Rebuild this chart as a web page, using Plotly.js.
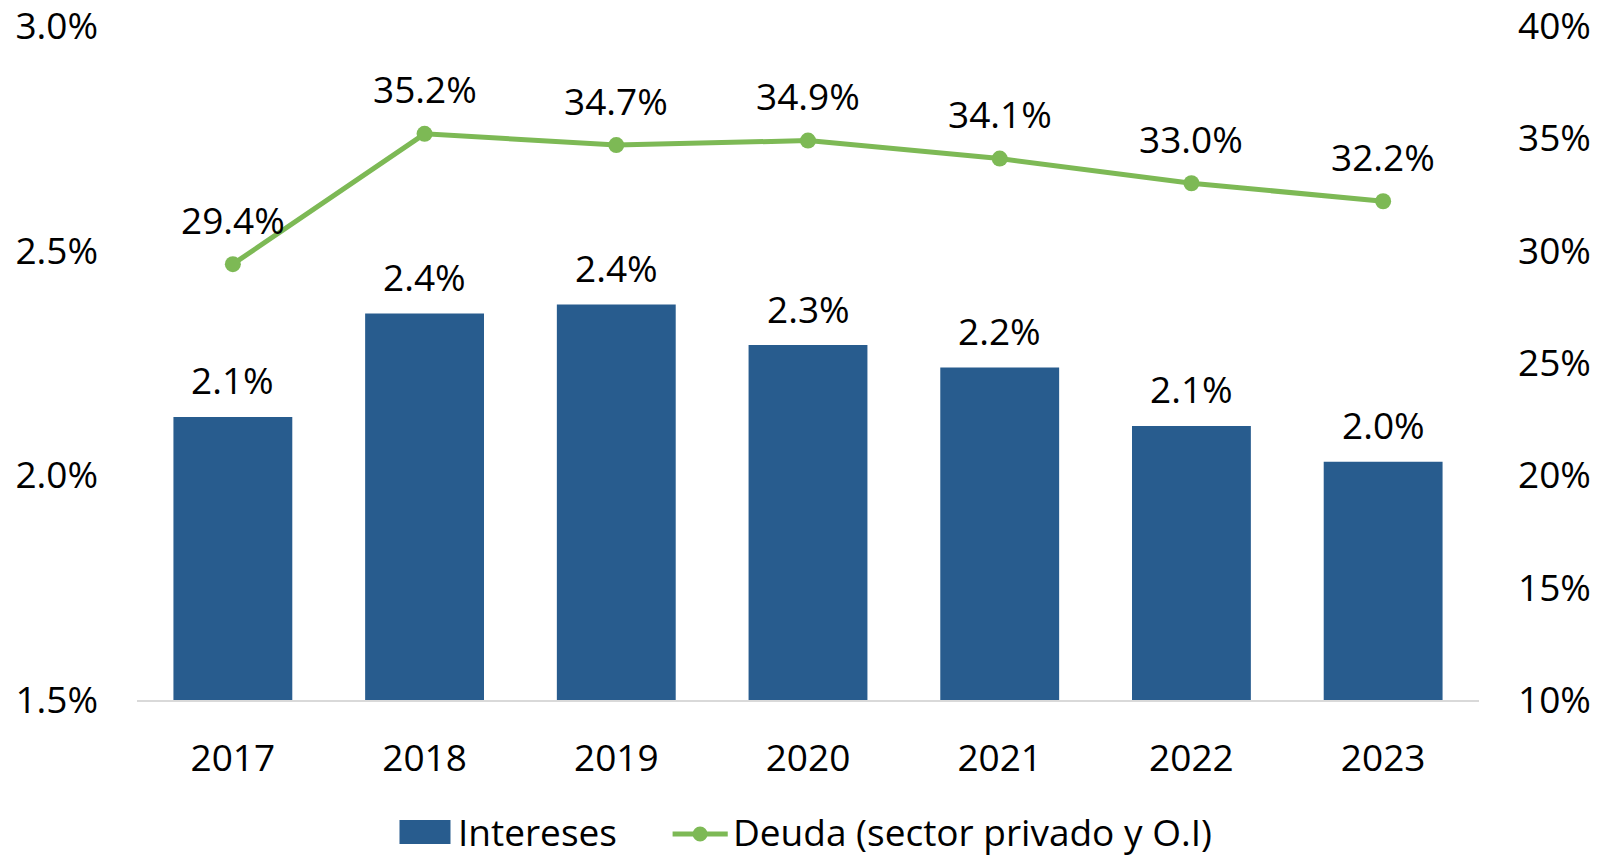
<!DOCTYPE html>
<html>
<head>
<meta charset="utf-8">
<script src="https://cdn.plot.ly/plotly-3.0.1.min.js"></script>
<style>
  html, body { margin: 0; padding: 0; background: #fff; }
  #chart { width: 1598px; height: 857px; }
</style>
</head>
<body>
<div id="chart"></div>
<script>
// data
const years = ['2017', '2018', '2019', '2020', '2021', '2022', '2023'];
const intereses = [2.13, 2.36, 2.38, 2.29, 2.24, 2.11, 2.03];   // % (left axis)
const deuda = [29.4, 35.2, 34.7, 34.9, 34.1, 33.0, 32.2];        // % (right axis)
const leftTicks = [1.5, 2.0, 2.5, 3.0];
const rightTicks = [10, 15, 20, 25, 30, 35, 40];
const seriesNames = ['Intereses', 'Deuda (sector privado y O.I)'];

const FONT = '"Open Sans", sans-serif';
const FS = 37;
const barColor = '#285C8E';
const lineColor = '#7DB955';

const bars = {
  x: years,
  y: intereses,
  type: 'bar',
  name: seriesNames[0],
  marker: { color: barColor },
  width: 0.62,
  hoverinfo: 'skip'
};

const line = {
  x: years,
  y: deuda,
  type: 'scatter',
  mode: 'lines+markers',
  name: seriesNames[1],
  yaxis: 'y2',
  line: { color: lineColor, width: 5 },
  marker: { color: lineColor, size: 16 },
  hoverinfo: 'skip'
};

// value labels (category axis -> use the index)
const annotations = [];
years.forEach((yr, i) => {
  annotations.push({
    x: i, y: intereses[i], xref: 'x', yref: 'y',
    text: intereses[i].toFixed(1) + '%',
    showarrow: false, yanchor: 'middle', yshift: 37,
    font: { family: FONT, size: FS, color: '#000' }
  });
  annotations.push({
    x: i, y: deuda[i], xref: 'x', yref: 'y2',
    text: deuda[i].toFixed(1) + '%',
    showarrow: false, yanchor: 'middle', yshift: 45,
    font: { family: FONT, size: FS, color: '#000' }
  });
});

// legend drawn by hand so the swatches match the original size
annotations.push({
  xref: 'paper', yref: 'paper', x: 0.2382, y: -0.1955,
  xanchor: 'left', yanchor: 'middle', showarrow: false, borderpad: 0,
  text: seriesNames[0], font: { family: FONT, size: FS, color: '#000' }
});
annotations.push({
  xref: 'paper', yref: 'paper', x: 0.4431, y: -0.1955,
  xanchor: 'left', yanchor: 'middle', showarrow: false, borderpad: 0,
  text: seriesNames[1], font: { family: FONT, size: FS, color: '#000' }
});
const shapes = [
  { type: 'rect', xref: 'paper', yref: 'paper', x0: 0.1956, x1: 0.2336, y0: -0.2136, y1: -0.1780,
    fillcolor: barColor, line: { width: 0 } },
  { type: 'line', xref: 'paper', yref: 'paper', x0: 0.3991, x1: 0.4402, y0: -0.1988, y1: -0.1988,
    line: { color: lineColor, width: 5 } },
  { type: 'circle', xref: 'paper', yref: 'paper', xsizemode: 'pixel', ysizemode: 'pixel',
    xanchor: 0.4196, yanchor: -0.1988, x0: -7.5, x1: 7.5, y0: -7.5, y1: 7.5,
    fillcolor: lineColor, line: { width: 0 } }
];

const layout = {
  width: 1598,
  height: 857,
  margin: { l: 137, r: 119, t: 26, b: 157, autoexpand: false },
  paper_bgcolor: '#ffffff',
  plot_bgcolor: '#ffffff',
  font: { family: FONT, size: FS, color: '#000' },
  showlegend: false,
  xaxis: {
    type: 'category',
    range: [-0.5, 6.5],
    showgrid: false,
    showline: true,
    linecolor: '#d9d9d9',
    linewidth: 2,
    ticks: '',
    ticklabelstandoff: 25,
    tickfont: { family: FONT, size: FS, color: '#000' }
  },
  yaxis: {
    range: [1.5, 3.0],
    tickvals: leftTicks,
    ticktext: leftTicks.map(v => v.toFixed(1) + '%'),
    showgrid: false,
    zeroline: false,
    showline: false,
    ticks: '',
    ticklabelstandoff: 38,
    ticklabeloverflow: 'allow',
    tickfont: { family: FONT, size: FS, color: '#000' }
  },
  yaxis2: {
    overlaying: 'y',
    side: 'right',
    range: [10, 40],
    tickvals: rightTicks,
    ticktext: rightTicks.map(v => v + '%'),
    showgrid: false,
    zeroline: false,
    showline: false,
    ticks: '',
    ticklabelstandoff: 38,
    ticklabeloverflow: 'allow',
    tickfont: { family: FONT, size: FS, color: '#000' }
  },
  shapes: shapes,
  annotations: annotations
};

Plotly.newPlot('chart', [bars, line], layout, { displayModeBar: false, staticPlot: true });
</script>
</body>
</html>
